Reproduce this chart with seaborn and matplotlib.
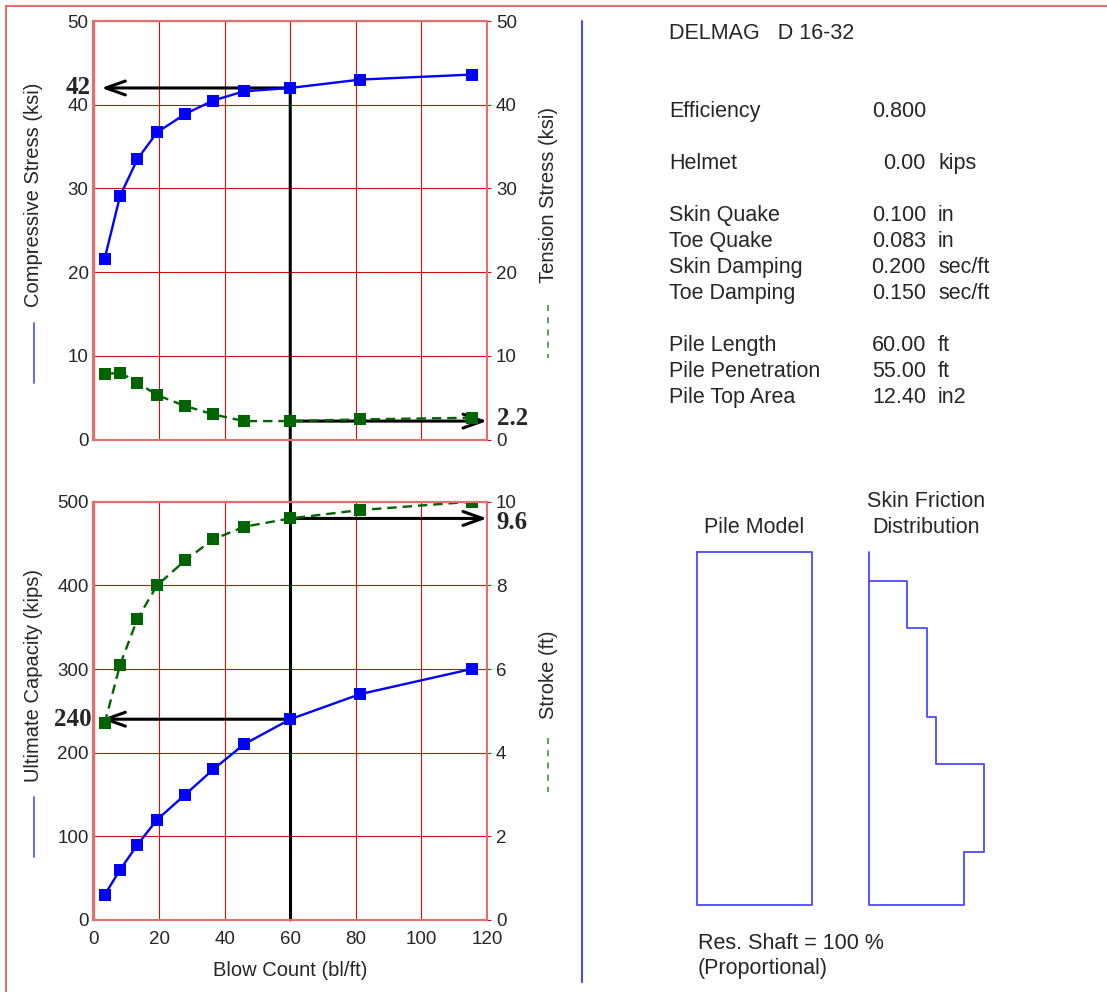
import matplotlib
matplotlib.use("Agg")
import matplotlib.pyplot as plt
import matplotlib.transforms as mtransforms
from matplotlib.patches import ConnectionPatch
from matplotlib.lines import Line2D
import seaborn as sns

# ---------------------------------------------------------------- data
# Bearing graph: one entry per analysed blow count
blow_count = [3.4, 8.1, 13.4, 19.4, 28.0, 36.5, 45.9, 60.0, 81.3, 115.3]
compressive_stress = [21.6, 29.1, 33.5, 36.7, 38.9, 40.5, 41.6, 42.0, 43.0, 43.6]
tension_stress = [7.8, 8.0, 6.8, 5.3, 4.0, 3.0, 2.2, 2.2, 2.4, 2.6]
ultimate_capacity = [30, 60, 90, 120, 150, 180, 210, 240, 270, 300]
stroke = [4.7, 6.1, 7.2, 8.0, 8.6, 9.1, 9.4, 9.6, 9.8, 10.0]
design_point = 7  # index of the selected blow count

# Hammer / soil input summary
hammer_name = "DELMAG   D 16-32"
input_names = ["Efficiency", "Helmet", "Skin Quake", "Toe Quake", "Skin Damping",
               "Toe Damping", "Pile Length", "Pile Penetration", "Pile Top Area"]
input_values = ["0.800", "0.00", "0.100", "0.083", "0.200", "0.150",
                "60.00", "55.00", "12.40"]
input_units = ["", "kips", "in", "in", "sec/ft", "sec/ft", "ft", "ft", "in2"]
input_rows = [3, 5, 7, 8, 9, 10, 12, 13, 14]   # text line number of each entry

# Skin friction distribution along the pile (depth in ft, relative friction)
pile_length = 60.0
pile_penetration = 55.0
segment_top = [5, 13, 28, 36, 51]
segment_bottom = [13, 28, 36, 51, 60]
segment_friction = [0.33, 0.50, 0.58, 1.00, 0.83]
shaft_resistance = "Res. Shaft = 100 %"
distribution_kind = "(Proportional)"

# ---------------------------------------------------------------- style
sns.set_style("white")
plt.rcParams["font.family"] = ["Liberation Sans", "DejaVu Sans"]

BLUE = "#0000ff"
GREEN = "#006400"
GRID = "#d01010"
SPINE = "#e07070"
FRAME_BLUE = "#4a4aff"
W, H = 1107, 992

fig = plt.figure(figsize=(W / 100, H / 100), dpi=100)


def px_axes(x0, y0, x1, y1):
    return fig.add_axes([x0 / W, 1 - y1 / H, (x1 - x0) / W, (y1 - y0) / H])


def fig_text(x, y, s, **kw):
    return fig.text(x / W, 1 - y / H, s, **kw)


def fig_line(xs, ys, **kw):
    fig.add_artist(Line2D([x / W for x in xs], [1 - y / H for y in ys],
                          transform=fig.transFigure, **kw))


def style_pair(ax, tw, left_max, left_step, right_max, right_step, show_x):
    ax.set_xlim(0, 120)
    ax.set_xticks(range(0, 121, 20))
    ax.set_ylim(0, left_max)
    ax.set_yticks([left_step * i for i in range(int(left_max / left_step) + 1)])
    tw.set_ylim(0, right_max)
    tw.set_yticks([right_step * i for i in range(int(right_max / right_step) + 1)])
    ax.set_axisbelow(True)
    ax.grid(True, color=GRID, linewidth=0.8)
    tw.grid(False)
    for a in (ax, tw):
        for s in a.spines.values():
            s.set_color(SPINE)
            s.set_linewidth(1.5)
        a.set_xlabel("")
        a.set_ylabel("")
    ax.tick_params(axis="y", length=0, labelsize=13.5, pad=3.5)
    ax.tick_params(axis="x", length=0, labelsize=13.5, pad=8, labelbottom=show_x)
    tw.tick_params(axis="y", length=3, color=GRID, labelsize=13.5, pad=3.5)


ax_top = px_axes(93.5, 21, 487, 439.5)
tw_top = ax_top.twinx()
ax_bot = px_axes(93.5, 501.7, 487, 920)
tw_bot = ax_bot.twinx()

solid = dict(marker="s", markersize=8.5, markeredgewidth=0, linewidth=1.7, zorder=2)
dashed = dict(marker="s", markersize=8.5, markeredgewidth=0, linewidth=1.7,
              linestyle=(0, (4, 2.5)), zorder=2)

sns.lineplot(x=blow_count, y=compressive_stress, ax=ax_top, color=BLUE, **solid)
sns.lineplot(x=blow_count, y=tension_stress, ax=tw_top, color=GREEN, **dashed)
sns.lineplot(x=blow_count, y=ultimate_capacity, ax=ax_bot, color=BLUE, **solid)
sns.lineplot(x=blow_count, y=stroke, ax=tw_bot, color=GREEN, **dashed)

style_pair(ax_top, tw_top, 50, 10, 50, 10, show_x=False)
style_pair(ax_bot, tw_bot, 500, 100, 10, 2, show_x=True)

# ---------------------------------------------------------------- design point
b_sel = blow_count[design_point]
c_sel = compressive_stress[design_point]
t_sel = tension_stress[design_point]
q_sel = ultimate_capacity[design_point]
s_sel = stroke[design_point]

arrow = dict(arrowstyle="->,head_length=0.7,head_width=0.25", color="black",
             lw=2.2, shrinkA=0, shrinkB=0, mutation_scale=20)

con = ConnectionPatch(xyA=(b_sel, c_sel), coordsA=ax_top.transData,
                      xyB=(b_sel, 0), coordsB=ax_bot.transData,
                      color="black", lw=2.2, clip_on=False, zorder=1.9)
ax_top.add_artist(con)
ax_bot.axvline(b_sel, color="black", lw=2.2, zorder=1.9)

for a, y, side in ((ax_top, c_sel, "left"), (tw_top, t_sel, "right"),
                   (ax_bot, q_sel, "left"), (tw_bot, s_sel, "right")):
    tip = 0.02 if side == "left" else 1.0
    a.annotate("", xy=(tip, y), xycoords=("axes fraction", "data"),
               xytext=(b_sel, y), textcoords="data",
               arrowprops=arrow, zorder=1.9, annotation_clip=False)

value_font = dict(family=["Liberation Serif", "DejaVu Serif"], weight="bold",
                  size=18, va="center")


def nudge(px):
    return mtransforms.ScaledTranslation(0, px / 100, fig.dpi_scale_trans)


# value callouts; the right-hand ones are shifted a little clear of the tick labels
for a, y, txt, side, shift in ((ax_top, c_sel, f"{c_sel:.0f}", "left", 0),
                               (tw_top, t_sel, f"{t_sel:.1f}", "right", 3),
                               (ax_bot, q_sel, f"{q_sel:.0f}", "left", 0),
                               (tw_bot, s_sel, f"{s_sel:.1f}", "right", -4)):
    trans = mtransforms.blended_transform_factory(a.transAxes, a.transData)
    if side == "left":
        a.text(-0.006, y, txt, transform=trans, ha="right", **value_font)
    else:
        a.text(1.025, y, txt, transform=trans + nudge(shift), ha="left", **value_font)

# ---------------------------------------------------------------- axis titles with line keys
label_kw = dict(rotation=90, ha="center", va="center", fontsize=14.5)
fig_text(34, 195, "Compressive Stress (ksi)", **label_kw)
fig_line([34, 34], [323, 383], color="#5a5aff", lw=1.3)
fig_text(548, 195, "Tension Stress (ksi)", **label_kw)
fig_line([548, 548], [305, 358], color="#2e8b2e", lw=1.1, linestyle=(0, (4, 4)))
fig_text(34, 676, "Ultimate Capacity (kips)", **label_kw)
fig_line([34, 34], [797, 857], color="#5a5aff", lw=1.3)
fig_text(548, 675, "Stroke (ft)", **label_kw)
fig_line([548, 548], [738, 792], color="#2e8b2e", lw=1.1, linestyle=(0, (4, 4)))
fig_text(290, 971, "Blow Count (bl/ft)", ha="center", va="center", fontsize=14.5)

# ---------------------------------------------------------------- frame
fig_line([6, 6], [6, H], color=SPINE, lw=1.5)
fig_line([6, W], [6, 6], color=SPINE, lw=1.5)
fig_line([582, 582], [21, 982], color=FRAME_BLUE, lw=1.5)

# ---------------------------------------------------------------- input summary
info_kw = dict(fontsize=15.5, va="baseline")
fig_text(669, 39, hammer_name, ha="left", **info_kw)
for name, val, unit, row in zip(input_names, input_values, input_units, input_rows):
    y = 39 + 26 * row
    fig_text(669, y, name, ha="left", **info_kw)
    fig_text(926, y, val, ha="right", **info_kw)
    if unit:
        fig_text(938, y, unit, ha="left", **info_kw)

# ---------------------------------------------------------------- pile model
ax_pile = px_axes(697, 552, 812, 905)
ax_pile.plot([0, 1, 1, 0, 0], [0, 0, pile_length, pile_length, 0],
             color=FRAME_BLUE, lw=1.3, clip_on=False)
ax_pile.set_xlim(0, 1)
ax_pile.set_ylim(pile_length, 0)
ax_pile.axis("off")

ax_fric = px_axes(869, 552, 984, 905)
xs, ys = [0, 0], [0, pile_length - pile_penetration]
for top, bot, f in zip(segment_top, segment_bottom, segment_friction):
    xs += [f, f]
    ys += [top, bot]
xs += [0, 0]
ys += [pile_length, pile_length - pile_penetration]
ax_fric.plot(xs, ys, color=FRAME_BLUE, lw=1.3, clip_on=False)
ax_fric.set_xlim(0, max(segment_friction))
ax_fric.set_ylim(pile_length, 0)
ax_fric.axis("off")

fig_text(754, 533, "Pile Model", ha="center", **info_kw)
fig_text(926, 507, "Skin Friction", ha="center", **info_kw)
fig_text(926, 533, "Distribution", ha="center", **info_kw)
fig_text(698, 949, shaft_resistance, ha="left", **info_kw)
fig_text(698, 974, distribution_kind, ha="left", **info_kw)

fig.savefig("out.png", dpi=100, facecolor="white")
